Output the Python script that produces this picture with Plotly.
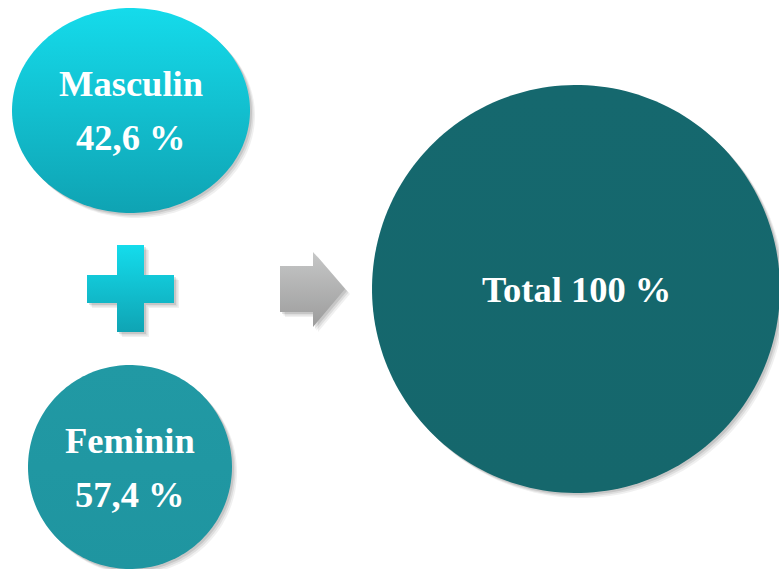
import numpy as np
import plotly.graph_objects as go

# ---- data ----
labels = ["Masculin", "Feminin"]
values = [42.6, 57.4]
total_label = "Total"
total_value = 100

# ---- layout geometry (pixel-like axis units, y downward) ----
W, H = 779, 569
ell = {  # cx, cy, rx, ry
    "Masculin": (131, 110.5, 119, 102.5),
    "Feminin": (130, 467, 102, 102),
    "Total": (576, 289, 204, 204),
}
fills = {
    "Masculin": ("#15DBEB", "#0FA3B3"),
    "Feminin": ("#2199A4", "#1F95A0"),
    "Total": ("#15686E", "#15676C"),
}

def ellipse(cx, cy, rx, ry, n=200):
    t = np.linspace(0, 2 * np.pi, n)
    return cx + rx * np.cos(t), cy + ry * np.sin(t)

def grad(top, bottom):
    # colorscale 0 = bottom on screen in this setup
    return dict(type="vertical", colorscale=[[0, bottom], [1, top]])

fig = go.Figure()

def add_shape(xs, ys, top, bottom, shadow=True):
    if shadow:
        for d, op in [(5, 0.06), (3.5, 0.08), (2, 0.1)]:
            fig.add_trace(go.Scatter(x=np.asarray(xs) + d, y=np.asarray(ys) + d, fill="toself",
                                     fillcolor=f"rgba(0,0,0,{op})", mode="none",
                                     hoverinfo="skip", showlegend=False))
    fig.add_trace(go.Scatter(x=xs, y=ys, fill="toself", fillgradient=grad(top, bottom),
                             mode="none", hoverinfo="skip", showlegend=False))

for name in ["Masculin", "Feminin", "Total"]:
    cx, cy, rx, ry = ell[name]
    xs, ys = ellipse(cx, cy, rx, ry)
    add_shape(xs, ys, *fills[name])

# plus sign
px = [117, 144, 144, 174, 174, 144, 144, 117, 117, 87, 87, 117, 117]
py = [245, 245, 275, 275, 303, 303, 332, 332, 303, 303, 275, 275, 245]
add_shape(px, py, "#14DCEC", "#0FA4B4")

# arrow
ax = [280, 313, 313, 345, 313, 313, 280, 280]
ay = [266, 266, 252, 289, 327, 312, 312, 266]
add_shape(ax, ay, "#C6C7C7", "#9C9C9C")

def fmt(v):
    return (f"{v:.1f}" if v != int(v) else f"{int(v)}").replace(".", ",") + " %"

font = dict(family="Liberation Serif, Times New Roman, serif", size=36.5, color="white")
annotations = []
for lab, val in zip(labels, values):
    cx, cy, rx, ry = ell[lab]
    annotations.append(dict(x=cx, y=cy - 27, text=f"<b>{lab}</b>", showarrow=False,
                            xref="x", yref="y", font=font))
    annotations.append(dict(x=cx, y=cy + 27, text=f"<b>{fmt(val)}</b>", showarrow=False,
                            xref="x", yref="y", font=font))
cx, cy, rx, ry = ell["Total"]
annotations.append(dict(x=cx, y=cy, text=f"<b>{total_label} {fmt(total_value)}</b>",
                        showarrow=False, xref="x", yref="y", font=font))

fig.update_layout(
    width=W, height=H, margin=dict(l=0, r=0, t=0, b=0),
    paper_bgcolor="white", plot_bgcolor="white",
    xaxis=dict(range=[0, W], visible=False, fixedrange=True),
    yaxis=dict(range=[H, 0], visible=False, fixedrange=True),
    annotations=annotations, showlegend=False,
)
fig.write_html("out.html", config={"displayModeBar": False},
               post_script="document.body.style.margin='0px';document.body.style.overflow='hidden';")
